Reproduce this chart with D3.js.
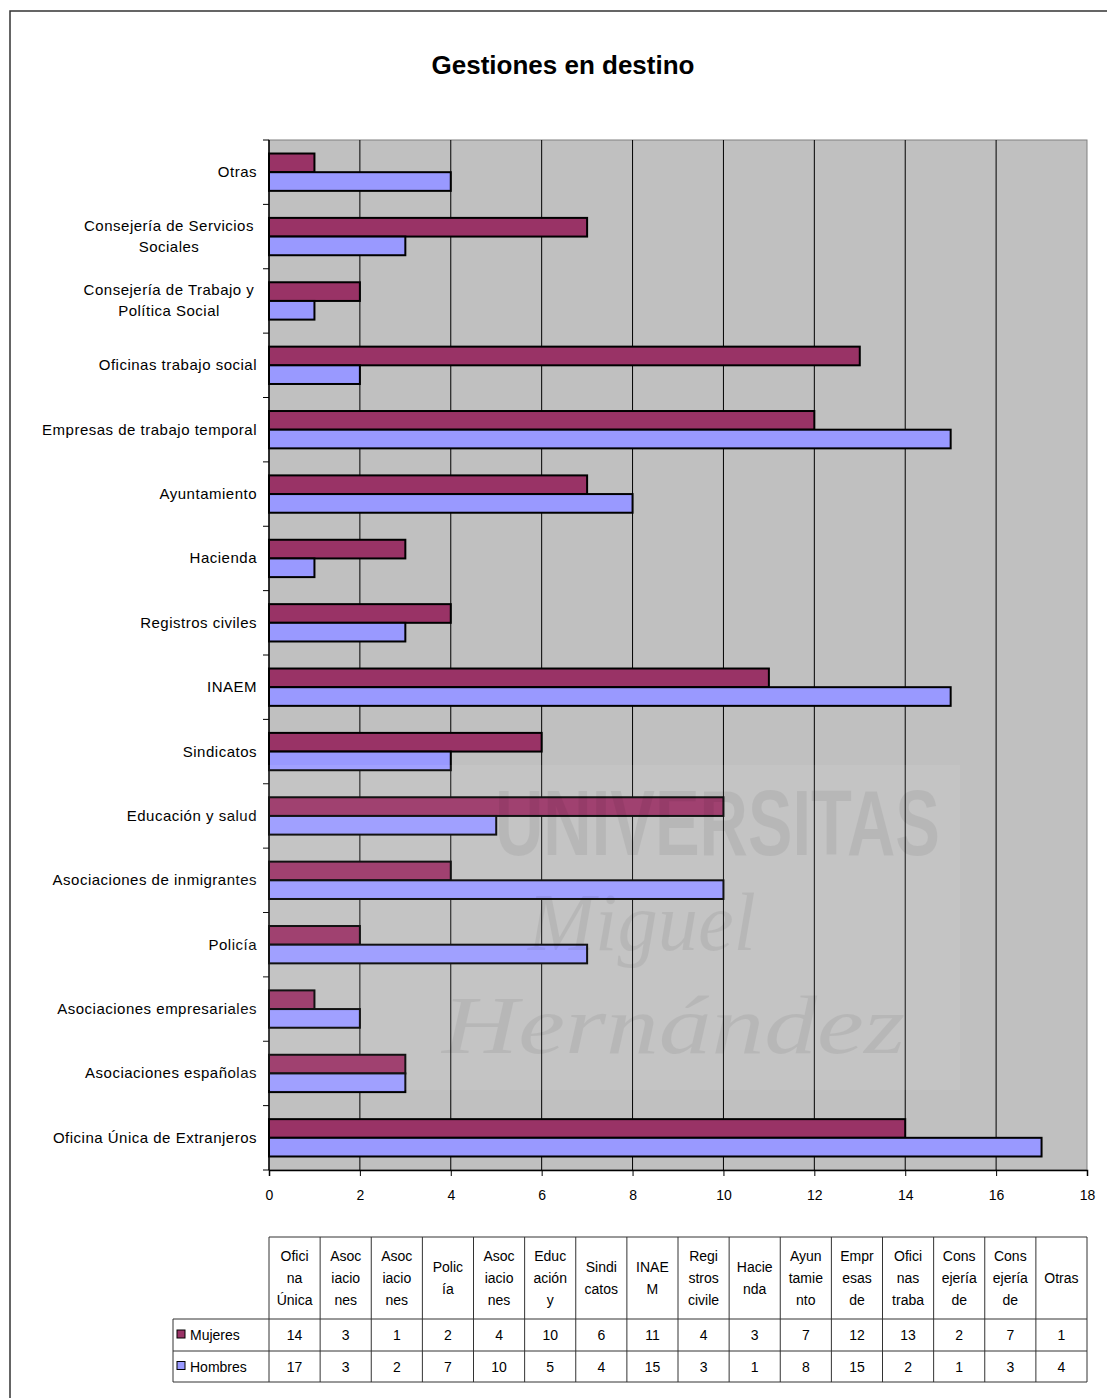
<!DOCTYPE html>
<html>
<head>
<meta charset="utf-8">
<script src="https://cdn.jsdelivr.net/npm/d3@7"></script>
<style>
  body { margin: 0; background: #fff; }
  text { font-family: "Liberation Sans", Arial, sans-serif; }
</style>
</head>
<body>
<div id="chart"></div>
<script>
// Gestiones en destino - horizontal grouped bars + data table

// Data (bottom to top in the chart, left to right in the table)
const categories = [
    "Oficina Única de Extranjeros", "Asociaciones españolas", "Asociaciones empresariales",
    "Policía", "Asociaciones de inmigrantes", "Educación y salud", "Sindicatos", "INAEM",
    "Registros civiles", "Hacienda", "Ayuntamiento", "Empresas de trabajo temporal",
    "Oficinas trabajo social", "Consejería de Trabajo y Política Social",
    "Consejería de Servicios Sociales", "Otras"
];
// how the axis labels wrap
const axisLabelLines = [
    ["Oficina Única de Extranjeros"], ["Asociaciones españolas"], ["Asociaciones empresariales"],
    ["Policía"], ["Asociaciones de inmigrantes"], ["Educación y salud"], ["Sindicatos"], ["INAEM"],
    ["Registros civiles"], ["Hacienda"], ["Ayuntamiento"], ["Empresas de trabajo temporal"],
    ["Oficinas trabajo social"], ["Consejería de Trabajo y", "Política Social"],
    ["Consejería de Servicios", "Sociales"], ["Otras"]
];
// truncated headers of the data table
const tableHeaders = [
    ["Ofici", "na", "Única"], ["Asoc", "iacio", "nes"], ["Asoc", "iacio", "nes"], ["Polic", "ía"],
    ["Asoc", "iacio", "nes"], ["Educ", "ación", "y"], ["Sindi", "catos"], ["INAE", "M"],
    ["Regi", "stros", "civile"], ["Hacie", "nda"], ["Ayun", "tamie", "nto"], ["Empr", "esas", "de"],
    ["Ofici", "nas", "traba"], ["Cons", "ejería", "de"], ["Cons", "ejería", "de"], ["Otras"]
];
const seriesNames = ["Mujeres", "Hombres"];
const mujeres = [14, 3, 1, 2, 4, 10, 6, 11, 4, 3, 7, 12, 13, 2, 7, 1];
const hombres = [17, 3, 2, 7, 10, 5, 4, 15, 3, 1, 8, 15, 2, 1, 3, 4];
const xTicks = [0, 2, 4, 6, 8, 10, 12, 14, 16, 18];

const seriesColors = {"Mujeres": "#993366", "Hombres": "#9999FF"};
const seriesValues = {"Mujeres": mujeres, "Hombres": hombres};

// Dimensions
const W = 1107, H = 1398;
const plot = {left: 269, right: 1087, top: 140, bottom: 1170};

const svg = d3.select("#chart")
    .append("svg")
    .attr("width", W)
    .attr("height", H);

// outer frame (cut off at right and bottom)
svg.append("path")
    .attr("d", `M10,${H} L10,11 L${W},11`)
    .attr("fill", "none")
    .attr("stroke", "#333")
    .attr("stroke-width", 1.5);

// Title
svg.append("text")
    .attr("x", 563)
    .attr("y", 74)
    .attr("text-anchor", "middle")
    .style("font-size", "26px")
    .style("font-weight", "bold")
    .text("Gestiones en destino");

// Scales
const x = d3.scaleLinear()
    .domain([0, 18])
    .range([plot.left, plot.right]);

const y = d3.scaleBand()
    .domain(categories.slice().reverse())
    .range([plot.top, plot.bottom]);

const ySub = d3.scaleBand()
    .domain(seriesNames)
    .range([y.bandwidth() * 0.21, y.bandwidth() * 0.79]);

// Plot background
svg.append("rect")
    .attr("x", plot.left)
    .attr("y", plot.top)
    .attr("width", plot.right - plot.left)
    .attr("height", plot.bottom - plot.top)
    .attr("fill", "#C0C0C0")
    .attr("stroke", "#808080")
    .attr("stroke-width", 1);

// vertical gridlines
svg.append("g")
    .selectAll("line")
    .data(xTicks.slice(1, -1))
    .enter()
    .append("line")
    .attr("x1", d => x(d)).attr("x2", d => x(d))
    .attr("y1", plot.top).attr("y2", plot.bottom)
    .attr("stroke", "#000")
    .attr("stroke-width", 1);

// Bars
const rows = categories.map((c, i) => ({cat: c, Mujeres: mujeres[i], Hombres: hombres[i]}));

const groups = svg.append("g")
    .selectAll("g")
    .data(rows)
    .enter()
    .append("g")
    .attr("transform", d => `translate(0,${y(d.cat)})`);

groups.selectAll("rect")
    .data(d => seriesNames.map(s => ({key: s, value: d[s]})))
    .enter()
    .append("rect")
    .attr("x", x(0))
    .attr("y", d => ySub(d.key))
    .attr("width", d => x(d.value) - x(0))
    .attr("height", ySub.bandwidth())
    .attr("fill", d => seriesColors[d.key])
    .attr("stroke", "#000")
    .attr("stroke-width", 2);

// Bottom axis
const xAxis = svg.append("g")
    .attr("transform", `translate(0,${plot.bottom})`)
    .call(d3.axisBottom(x).tickValues(xTicks).tickSize(6).tickPadding(14));
xAxis.select(".domain").attr("stroke", "#000").attr("stroke-width", 1.5);
xAxis.selectAll("text")
    .style("font-family", "'Liberation Sans', Arial, sans-serif")
    .style("font-size", "14px")
    .attr("fill", "#000");

// Left axis: line and ticks between categories
const leftAxis = svg.append("g");
leftAxis.append("line")
    .attr("x1", plot.left).attr("x2", plot.left)
    .attr("y1", plot.top).attr("y2", plot.bottom)
    .attr("stroke", "#000").attr("stroke-width", 1.5);
leftAxis.selectAll(".tk")
    .data(d3.range(categories.length + 1))
    .enter()
    .append("line")
    .attr("class", "tk")
    .attr("x1", plot.left - 6).attr("x2", plot.left)
    .attr("y1", i => plot.top + i * y.step())
    .attr("y2", i => plot.top + i * y.step())
    .attr("stroke", "#000");

// category labels
const lineH = 21;
leftAxis.selectAll(".lbl")
    .data(categories.map((c, i) => ({cat: c, lines: axisLabelLines[i]})))
    .enter()
    .append("text")
    .attr("class", "lbl")
    .style("font-size", "15px")
    .style("letter-spacing", "0.5px")
    .each(function(d) {
        const t = d3.select(this);
        const cy = y(d.cat) + y.bandwidth() / 2;
        const n = d.lines.length;
        d.lines.forEach((ln, k) => {
            t.append("tspan")
                .attr("x", n > 1 ? 257 - 88 : 257)
                .attr("y", cy + 5 + (k - (n - 1) / 2) * lineH)
                .attr("text-anchor", n > 1 ? "middle" : "end")
                .text(ln);
        });
    });

// watermark, faint, over the plot
const wm = svg.append("g").style("pointer-events", "none");
wm.append("rect")
    .attr("x", 232).attr("y", 765)
    .attr("width", 728).attr("height", 325)
    .attr("fill", "#fff").attr("opacity", 0.07);
wm.append("text")
    .attr("x", 495).attr("y", 855)
    .attr("textLength", 445).attr("lengthAdjust", "spacingAndGlyphs")
    .style("font-family", "'Liberation Sans Narrow', 'Liberation Sans', sans-serif")
    .style("font-weight", "bold").style("font-size", "92px")
    .attr("fill", "#000").attr("opacity", 0.06)
    .text("UNIVERSITAS");
wm.append("text")
    .attr("x", 528).attr("y", 950)
    .attr("textLength", 228).attr("lengthAdjust", "spacingAndGlyphs")
    .style("font-family", "'Liberation Serif', serif")
    .style("font-style", "italic").style("font-size", "82px")
    .attr("fill", "#000").attr("opacity", 0.06)
    .text("Miguel");
wm.append("text")
    .attr("x", 442).attr("y", 1053)
    .attr("textLength", 463).attr("lengthAdjust", "spacingAndGlyphs")
    .style("font-family", "'Liberation Serif', serif")
    .style("font-style", "italic").style("font-size", "82px")
    .attr("fill", "#000").attr("opacity", 0.06)
    .text("Hernández");

// Data table
const colW = (plot.right - plot.left) / categories.length;
const tab = {top: 1237, headBottom: 1319, row1: 1351, row2: 1382, legendLeft: 173};
const tg = svg.append("g")
    .attr("stroke", "#333")
    .attr("stroke-width", 1);

// horizontal lines
tg.append("line").attr("x1", plot.left).attr("x2", plot.right).attr("y1", tab.top).attr("y2", tab.top);
[tab.headBottom, tab.row1, tab.row2].forEach(yy => {
    tg.append("line").attr("x1", tab.legendLeft).attr("x2", plot.right).attr("y1", yy).attr("y2", yy);
});
// vertical lines
tg.append("line").attr("x1", tab.legendLeft).attr("x2", tab.legendLeft)
    .attr("y1", tab.headBottom).attr("y2", tab.row2);
tg.selectAll(".vl")
    .data(d3.range(categories.length + 1))
    .enter()
    .append("line")
    .attr("class", "vl")
    .attr("x1", i => plot.left + i * colW).attr("x2", i => plot.left + i * colW)
    .attr("y1", tab.top).attr("y2", tab.row2);

// headers
svg.append("g")
    .selectAll("text")
    .data(tableHeaders)
    .enter()
    .append("text")
    .attr("text-anchor", "middle")
    .style("font-size", "14px")
    .each(function(lines, i) {
        const t = d3.select(this);
        const cx = plot.left + (i + 0.5) * colW;
        const cy = (tab.top + tab.headBottom) / 2;
        lines.forEach((ln, k) => {
            t.append("tspan")
                .attr("x", cx)
                .attr("y", cy + 5 + (k - (lines.length - 1) / 2) * 22)
                .text(ln);
        });
    });

// values
seriesNames.forEach((s, r) => {
    const top = r === 0 ? tab.headBottom : tab.row1;
    const bot = r === 0 ? tab.row1 : tab.row2;
    const cy = (top + bot) / 2 + 5;
    svg.append("g")
        .selectAll("text")
        .data(seriesValues[s])
        .enter()
        .append("text")
        .attr("x", (d, i) => plot.left + (i + 0.5) * colW)
        .attr("y", cy)
        .attr("text-anchor", "middle")
        .style("font-size", "14px")
        .text(d => d);

    // legend key
    svg.append("rect")
        .attr("x", tab.legendLeft + 4)
        .attr("y", cy - 10)
        .attr("width", 8).attr("height", 8)
        .attr("fill", seriesColors[s])
        .attr("stroke", "#000").attr("stroke-width", 1);
    svg.append("text")
        .attr("x", tab.legendLeft + 17)
        .attr("y", cy)
        .style("font-size", "14px")
        .text(s);
});
</script>
</body>
</html>
